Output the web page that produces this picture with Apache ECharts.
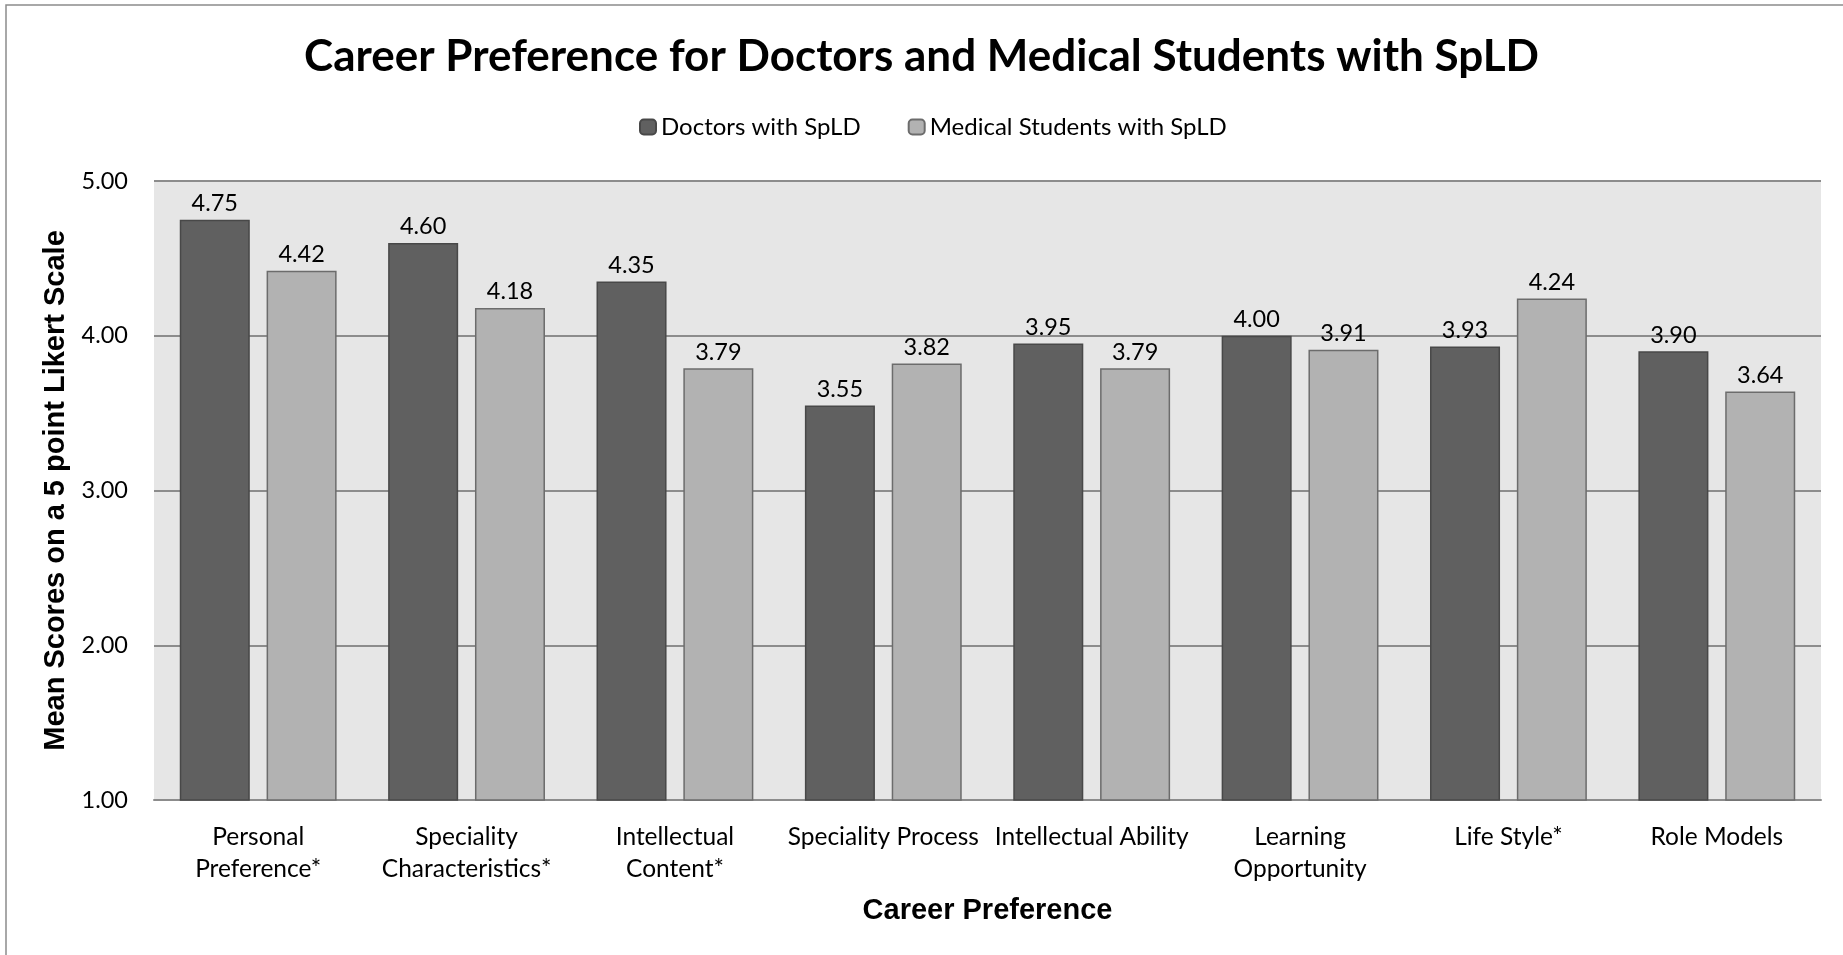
<!DOCTYPE html>
<html>
<head>
<meta charset="utf-8">
<script src="https://cdn.jsdelivr.net/npm/echarts@6/dist/echarts.min.js"></script>
<style>
html,body{margin:0;padding:0;background:#fff;}
#chart{width:1843px;height:955px;}
</style>
</head>
<body>
<div id="chart"></div>
<script>
const categories = [
  'Personal\nPreference*',
  'Speciality\nCharacteristics*',
  'Intellectual\nContent*',
  'Speciality Process',
  'Intellectual Ability',
  'Learning\nOpportunity',
  'Life Style*',
  'Role Models'
];
const doctors = [4.75, 4.60, 4.35, 3.55, 3.95, 4.00, 3.93, 3.90];
const students = [4.42, 4.18, 3.79, 3.82, 3.79, 3.91, 4.24, 3.64];
const seriesNames = ['Doctors with SpLD', 'Medical Students with SpLD'];
const yTicks = {min: 1, max: 5, interval: 1};

const chart = echarts.init(document.getElementById('chart'));
const calibri = 'Lato, "Open Sans", sans-serif';
const arial = '"Liberation Sans", Arial, sans-serif';
const lbl = {
  show: true, position: 'top', distance: 4,
  fontFamily: calibri, fontSize: 23.5, color: '#000',
  formatter: p => p.value.toFixed(2)
};
chart.setOption({
  backgroundColor: '#fff',
  animation: false,
  graphic: [{
    type: 'rect', silent: true, z: -10,
    shape: {x: 6, y: 5, width: 1900, height: 1000},
    style: {fill: 'none', stroke: '#8c8c8c', lineWidth: 1.5}
  }],
  title: {
    text: 'Career Preference for Doctors and Medical Students with SpLD',
    left: 'center', top: 30,
    textStyle: {fontFamily: calibri, fontWeight: 'bold', fontSize: 44, color: '#000'}
  },
  legend: {
    left: 639, top: 115, padding: 0,
    itemWidth: 16, itemHeight: 15, itemGap: 47,
    textStyle: {fontFamily: calibri, fontSize: 24, color: '#000', padding: [0, 0, 0, 0]},
    data: seriesNames
  },
  grid: {
    left: 154, right: 22, top: 181, bottom: 155,
    show: true, backgroundColor: '#e6e6e6', borderWidth: 0
  },
  xAxis: {
    type: 'category', data: categories,
    name: 'Career Preference', nameLocation: 'middle', nameGap: 96,
    nameTextStyle: {fontFamily: arial, fontWeight: 'bold', fontSize: 29, color: '#000'},
    axisTick: {show: false},
    axisLine: {lineStyle: {color: '#8c8c8c', width: 2}},
    axisLabel: {interval: 0, margin: 21, fontFamily: calibri, fontSize: 24.5, lineHeight: 32, color: '#000'}
  },
  yAxis: {
    type: 'value', min: yTicks.min, max: yTicks.max, interval: yTicks.interval,
    name: 'Mean Scores on a 5 point Likert Scale', nameLocation: 'middle', nameGap: 82,
    nameTextStyle: {fontFamily: arial, fontWeight: 'bold', fontSize: 29, color: '#000'},
    axisLine: {show: false}, axisTick: {show: false},
    axisLabel: {margin: 26, fontFamily: calibri, fontSize: 23.5, color: '#000', formatter: v => v.toFixed(2)},
    splitLine: {lineStyle: {color: '#8c8c8c', width: 2}}
  },
  series: [
    {
      name: seriesNames[0], type: 'bar', data: doctors,
      barWidth: '33.6%', barGap: '24%',
      itemStyle: {color: '#606060', borderColor: '#484848', borderWidth: 1.5},
      label: lbl
    },
    {
      name: seriesNames[1], type: 'bar', data: students,
      barWidth: '33.6%', barGap: '24%',
      itemStyle: {color: '#b2b2b2', borderColor: '#6c6c6c', borderWidth: 1.5},
      label: lbl
    }
  ]
});
</script>
</body>
</html>
